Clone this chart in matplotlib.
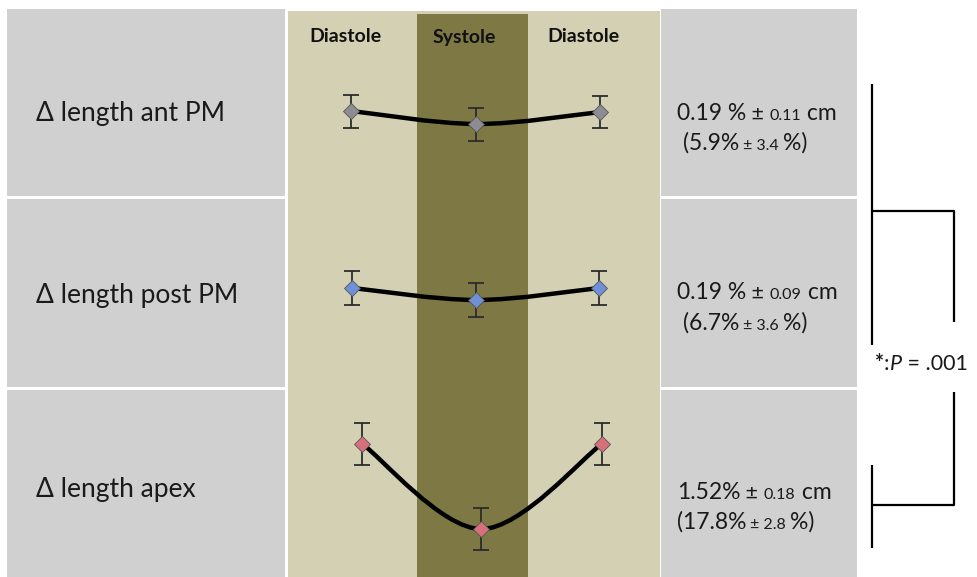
import numpy as np
import matplotlib.pyplot as plt
from matplotlib.path import Path
from matplotlib.patches import PathPatch, Rectangle

plt.rcParams['font.family'] = ['Lato', 'DejaVu Sans']

# data
rows = ['\u0394 length ant PM', '\u0394 length post PM', '\u0394 length apex']
phases = ['Diastole', 'Systole', 'Diastole']
phase_x = [[0.51, 1.52, 2.52],
           [0.52, 1.52, 2.51],
           [0.60, 1.56, 2.53]]
length_vals = [[0.85, 0.72, 0.84],
               [0.99, 0.87, 0.99],
               [1.33, 0.48, 1.33]]
length_err = [[0.165, 0.165, 0.16],
              [0.17, 0.17, 0.17],
              [0.21, 0.21, 0.21]]
marker_colors = ['#8c8c92', '#6f8fd6', '#d8707c']
# (mean change, sd, percent, sd percent)
stats_txt = [('0.19', '0.11', '5.9', '3.4'),
             ('0.19', '0.09', '6.7', '3.6'),
             ('1.52', '0.18', '17.8', '2.8')]

GRAY = '#d0d0d0'
TAN = '#d3d0b4'
DARK = '#7e7844'

W, H = 977, 577
fig = plt.figure(figsize=(W / 100, H / 100), dpi=100)
bg = fig.add_axes([0, 0, 1, 1])
bg.set_xlim(0, W)
bg.set_ylim(H, 0)
bg.axis('off')
renderer = fig.canvas.get_renderer()

row_edges = [(9, 196), (199, 387), (390, 577)]
label_y = [113, 295, 490]

# panels
for top, bot in row_edges:
    bg.add_patch(Rectangle((7, top), 278, bot - top, color=GRAY, lw=0))
    bg.add_patch(Rectangle((661, top), 196, bot - top, color=GRAY, lw=0))
bg.add_patch(Rectangle((288, 11), 372, H - 11, color=TAN, lw=0))
bg.add_patch(Rectangle((417, 14), 111, H - 14, color=DARK, lw=0))

for name, yc in zip(rows, label_y):
    bg.text(36, yc, name, fontsize=19, va='center', ha='left', color='#1a1a1a')

for lab, xc in zip(phases, [345, 464, 583]):
    bg.text(xc, 37, lab, fontsize=14, fontweight='bold', ha='center', va='center', color='#111111')


def smooth_path(xs, ys):
    # Excel-style smoothed line (cardinal spline as cubic Bezier)
    pts = np.column_stack([xs, ys])
    n = len(pts)
    verts = [pts[0]]
    codes = [Path.MOVETO]
    for i in range(n - 1):
        p0 = pts[max(i - 1, 0)]
        p1 = pts[i]
        p2 = pts[i + 1]
        p3 = pts[min(i + 2, n - 1)]
        verts += [p1 + (p2 - p0) / 6, p2 - (p3 - p1) / 6, p2]
        codes += [Path.CURVE4] * 3
    return Path(verts, codes)


for i, (top, bot) in enumerate(row_edges):
    ax = fig.add_axes([288 / W, 1 - bot / H, 372 / W, (bot - top) / H])
    ax.set_xlim(0, 3)
    ax.set_ylim(0, (bot - top) / 100)
    ax.axis('off')
    ax.patch.set_alpha(0)
    ax.add_patch(PathPatch(smooth_path(phase_x[i], length_vals[i]), fill=False,
                           lw=3.2, color='black', capstyle='round', zorder=2))
    ax.errorbar(phase_x[i], length_vals[i], yerr=length_err[i], fmt='none',
                ecolor='#2b2b2b', elinewidth=1.3, capsize=5.8, capthick=1.3, zorder=3)
    ax.plot(phase_x[i], length_vals[i], ls='none', marker='D', ms=8,
            mfc=marker_colors[i], mec='#555555', mew=0.6, zorder=4)


def rich_text(x, y, pieces):
    for s, size, kw in pieces:
        t = bg.text(x, y, s, fontsize=size, va='baseline', ha='left', color='#1a1a1a', **kw)
        x += t.get_window_extent(renderer).width


big, small = 16.5, 11.5
line_y = [(120, 150), (299, 330), (499, 529)]
for (m, sd, p, psd), (y1, y2), i in zip(stats_txt, line_y, range(3)):
    x2 = 683 if i < 2 else 677
    rich_text(677, y1, [(m + '%' if i == 2 else m + ' %', big, {}),
                        (' \u00b1 ', big - 1, {}), (sd, small, {}), (' cm', big, {})])
    rich_text(x2, y2, [('(' + p + '%', big, {}), (' \u00b1 ' + psd + ' ', small, {}),
                       ('%)', big, {})])

# significance bracket
lk = dict(color='black', lw=1.6, solid_capstyle='butt')
bg.plot([872, 872], [84, 345], **lk)
bg.plot([872, 954, 954], [211, 211, 322], **lk)
bg.plot([954, 954, 872], [392, 505, 505], **lk)
bg.plot([872, 872], [465, 548], **lk)
rich_text(875, 370, [('*', 15.5, {'fontweight': 'bold'}), (':', 15.5, {}),
                     ('P', 15.5, {'fontstyle': 'italic'}), (' = .001', 15.5, {})])

fig.savefig('out.png', dpi=100)
